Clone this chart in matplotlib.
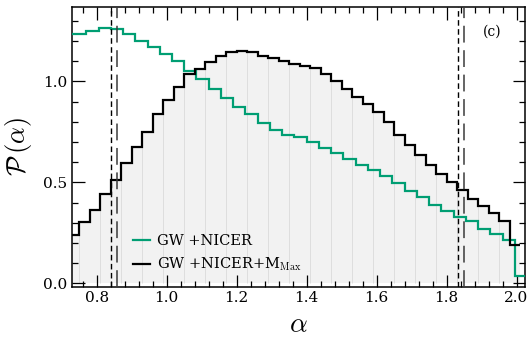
import numpy as np
import matplotlib
matplotlib.use("Agg")
import matplotlib.pyplot as plt

plt.rcParams['font.family'] = ['DejaVu Serif']
plt.rcParams['mathtext.fontset'] = 'cm'

# GW+NICER histogram (bin edges 0.70 .. 2.03, width 0.035)
gw_nicer_edges = np.round(np.arange(0.70, 2.0301, 0.035), 3)
gw_nicer = [1.235, 1.235, 1.251, 1.267, 1.259, 1.235, 1.200, 1.169, 1.137, 1.102,
            1.053, 1.012, 0.963, 0.920, 0.875, 0.840, 0.792, 0.760, 0.733, 0.725,
            0.698, 0.670, 0.645, 0.614, 0.588, 0.561, 0.530, 0.497, 0.455, 0.428,
            0.390, 0.356, 0.329, 0.307, 0.271, 0.246, 0.216, 0.035]

# GW+NICER+M_Max histogram (bin edges 0.72 .. 2.01, width 0.03)
gw_nicer_mmax_edges = np.round(np.arange(0.72, 2.0101, 0.03), 3)
gw_nicer_mmax = [0.241, 0.302, 0.365, 0.444, 0.513, 0.597, 0.677, 0.748, 0.839, 0.906,
                 0.972, 1.038, 1.063, 1.099, 1.124, 1.146, 1.153, 1.146, 1.124, 1.116,
                 1.104, 1.088, 1.079, 1.069, 1.038, 1.003, 0.962, 0.923, 0.888, 0.847,
                 0.799, 0.736, 0.683, 0.637, 0.584, 0.543, 0.500, 0.460, 0.418, 0.385,
                 0.349, 0.310, 0.192]

# 90% interval bounds
bounds_gw_nicer = [0.840, 1.832]
bounds_gw_nicer_mmax = [0.858, 1.850]

fig = plt.figure(figsize=(5.28, 3.44), dpi=100)
ax = fig.add_axes([0.136, 0.167, 0.858, 0.812])

# light filled area under the M_Max histogram
ax.stairs(gw_nicer_mmax, gw_nicer_mmax_edges, fill=True, color='#f2f2f2', lw=0, zorder=1)
for i in range(1, len(gw_nicer_mmax), 2):
    ax.vlines(gw_nicer_mmax_edges[i], 0, min(gw_nicer_mmax[i - 1], gw_nicer_mmax[i]),
              color='#dedede', lw=0.7, zorder=1.5)

ax.stairs(gw_nicer, gw_nicer_edges, baseline=None, color='#009E73', lw=1.6,
          label='GW +NICER', zorder=3)
ax.stairs(gw_nicer_mmax, gw_nicer_mmax_edges, baseline=None, color='black', lw=1.6,
          label=r'GW +NICER+M$_{\rm Max}$', zorder=4)

for b in bounds_gw_nicer:
    ax.axvline(b, color='black', lw=1.0, ls=(0, (4, 2.5)), zorder=5)
for b in bounds_gw_nicer_mmax:
    ax.axvline(b, color='#3a3a3a', lw=1.1, ls=(0, (11, 5)), zorder=5)

ax.set_xlim(0.7286, 2.0237)
ax.set_ylim(-0.016, 1.368)
ax.set_xticks([0.8, 1.0, 1.2, 1.4, 1.6, 1.8, 2.0])
ax.set_xticks(np.arange(0.76, 2.03, 0.04), minor=True)
ax.set_yticks([0.0, 0.5, 1.0])
ax.set_yticks(np.arange(0.0, 1.36, 0.1), minor=True)
ax.tick_params(which='both', direction='in', top=True, right=True, labelsize=11)
ax.tick_params(which='major', length=9, width=0.9)
ax.tick_params(which='minor', length=4.5, width=0.9)
for s in ax.spines.values():
    s.set_linewidth(1.1)

ax.set_xlabel(r'$\alpha$', fontsize=20, labelpad=4)
ax.set_ylabel(r'$\mathcal{P}\,(\alpha)$', fontsize=19, labelpad=6)
ax.text(0.929, 0.913, '(c)', transform=ax.transAxes, fontsize=10, ha='center', va='center')

ax.legend(loc='lower left', bbox_to_anchor=(0.105, 0.0), frameon=False, fontsize=10.5,
          handlelength=1.2, handletextpad=0.5, labelspacing=0.55)

fig.savefig('out.png', dpi=100)
